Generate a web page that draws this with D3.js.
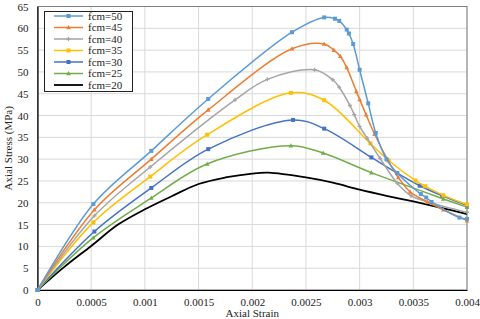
<!DOCTYPE html>
<html>
<head>
<meta charset="utf-8">
<script src="https://cdn.jsdelivr.net/npm/d3@7/dist/d3.min.js"></script>
<style>
body{margin:0;background:#fff;}
svg text{font-family:"Liberation Serif","Times New Roman",serif;fill:#222;}
</style>
</head>
<body>
<div id="chart"></div>
<script>
// data: [axial strain, axial stress MPa]
var seriesNames = ['fcm=50','fcm=45','fcm=40','fcm=35','fcm=30','fcm=25','fcm=20'];
var fcm50 = [[0,0],[0.00052,19.7],[0.00106,31.9],[0.00159,43.8],[0.00237,59.1],[0.00267,62.5],[0.00277,62.2],[0.00281,61.7],[0.00288,59.7],[0.0029,58.8],[0.00294,56.4],[0.003,50.5],[0.00308,42.8],[0.00315,36.0],[0.00325,30.0],[0.00335,26.8],[0.00357,22.0],[0.00362,21.2],[0.00367,20.2],[0.00393,16.6],[0.004,16.3]];
var fcm45 = [[0,0],[0.00053,18.4],[0.00106,30.0],[0.00159,41.3],[0.00237,55.3],[0.00267,56.4],[0.00276,55.0],[0.00282,53.6],[0.00288,51.0],[0.00297,45.5],[0.003,43.7],[0.00306,40.2],[0.00314,35.7],[0.00326,29.9],[0.00336,25.8],[0.00347,22.5],[0.00363,20.2],[0.00378,18.4],[0.004,15.9]];
var fcm40 = [[0,0],[0.00053,17.0],[0.00105,28.2],[0.00184,43.6],[0.00214,48.3],[0.00258,50.5],[0.00275,48.2],[0.00281,46.5],[0.00291,42.3],[0.00295,40.2],[0.003,37.5],[0.00307,34.8],[0.00319,30.2],[0.00335,24.5],[0.00348,21.6],[0.00366,20.0],[0.004,17.8]];
var fcm35 = [[0,0],[0.00052,15.5],[0.00105,26.0],[0.00158,35.6],[0.00236,45.2],[0.00267,43.5],[0.0031,33.6],[0.00327,29.7],[0.00352,25.1],[0.00361,23.8],[0.00378,21.7],[0.004,19.6]];
var fcm30 = [[0,0],[0.00053,13.4],[0.00106,23.4],[0.00159,32.3],[0.00238,39.0],[0.00267,37.0],[0.00311,30.4],[0.00335,26.8],[0.00356,23.9],[0.00377,21.6],[0.004,19.4]];
var fcm25 = [[0,0],[0.00052,12.0],[0.00106,21.1],[0.00158,28.9],[0.00236,33.1],[0.00266,31.4],[0.00311,26.9],[0.00378,20.9],[0.004,19.0]];
var fcm20 = [[0,0],[0.00025,5.3],[0.0005,10.1],[0.00075,15.0],[0.001,18.5],[0.00125,21.5],[0.0015,24.3],[0.00175,25.8],[0.002,26.7],[0.00215,26.9],[0.0025,25.8],[0.00275,24.6],[0.003,23.0],[0.00325,21.6],[0.0035,20.3],[0.00375,18.9],[0.004,17.4]];
var xTicks = [0,0.0005,0.001,0.0015,0.002,0.0025,0.003,0.0035,0.004];
var yTicks = d3.range(0,66,5);

var seriesData = [fcm50,fcm45,fcm40,fcm35,fcm30,fcm25,fcm20];
var colors = ['#5B9BD5','#ED7D31','#A5A5A5','#FFC000','#4472C4','#70AD47','#000000'];
var markers = ['square','triangle','cross','square','square','triangle','none'];

var width = 480, height = 319;
var svg = d3.select('#chart').append('svg').attr('width',width).attr('height',height);

var x = d3.scaleLinear().domain([0,0.004]).range([37.5,467]);
var y = d3.scaleLinear().domain([0,65]).range([290,6.5]);

// grid
svg.append('g').selectAll('line.h').data(yTicks).enter().append('line')
	.attr('x1',x(0)).attr('x2',x(0.004))
	.attr('y1',function(d){return y(d);}).attr('y2',function(d){return y(d);})
	.attr('stroke','#d9d9d9').attr('stroke-width',1);
svg.append('g').selectAll('line.v').data(xTicks).enter().append('line')
	.attr('y1',y(0)).attr('y2',y(65))
	.attr('x1',function(d){return x(d);}).attr('x2',function(d){return x(d);})
	.attr('stroke','#d9d9d9').attr('stroke-width',1);

// plot border
svg.append('rect').attr('x',x(0)).attr('y',y(65)).attr('width',x(0.004)-x(0)).attr('height',y(0)-y(65))
	.attr('fill','none').attr('stroke','#7f7f7f').attr('stroke-width',1);

// axes
var xAxis = svg.append('g').attr('transform','translate(0,'+y(0)+')')
	.call(d3.axisBottom(x).tickValues(xTicks).tickSize(0).tickPadding(8).tickFormat(function(d){return d===0?'0':String(+d.toFixed(4));}));
var yAxis = svg.append('g').attr('transform','translate('+x(0)+',0)')
	.call(d3.axisLeft(y).tickValues(yTicks).tickSize(0).tickPadding(9));
[xAxis,yAxis].forEach(function(a){
	a.select('.domain').attr('stroke','#000').attr('stroke-width',1.2);
	a.selectAll('text').attr('font-size',11).style('font-family','"Liberation Serif",serif').attr('fill','#222');
});

svg.append('text').attr('x',(x(0)+x(0.004))/2).attr('y',317).attr('text-anchor','middle')
	.attr('font-size',11).text('Axial Strain');
svg.append('text').attr('transform','translate(12,'+((y(0)+y(65))/2)+') rotate(-90)')
	.attr('text-anchor','middle').attr('font-size',11).text('Axial Stress (MPa)');

var line = d3.line().x(function(d){return x(d[0]);}).y(function(d){return y(d[1]);})
	.curve(d3.curveCatmullRom.alpha(0.5));

function drawMarker(g, type, cx, cy, color){
	if(type=='square'){
		g.append('rect').attr('x',cx-2).attr('y',cy-2).attr('width',4).attr('height',4).attr('fill',color);
	}else if(type=='triangle'){
		g.append('path').attr('d','M'+cx+','+(cy-2.5)+'L'+(cx+2.3)+','+(cy+1.8)+'L'+(cx-2.3)+','+(cy+1.8)+'Z').attr('fill',color);
	}else if(type=='cross'){
		g.append('path').attr('d','M'+(cx-2)+','+cy+'H'+(cx+2)+'M'+cx+','+(cy-2)+'V'+(cy+2)).attr('stroke',color).attr('stroke-width',1.3);
	}
}

// draw series, last first so fcm=50 is on top
for(var i=seriesData.length-1; i>=0; i--){
	var g = svg.append('g');
	g.append('path').datum(seriesData[i]).attr('d',line).attr('fill','none')
		.attr('stroke',colors[i]).attr('stroke-width',i==6?1.8:1.5);
	for(var j=0; j<seriesData[i].length; j++){
		drawMarker(g, markers[i], x(seriesData[i][j][0]), y(seriesData[i][j][1]), colors[i]);
	}
}

// legend
var lg = svg.append('g');
lg.append('rect').attr('x',44.5).attr('y',11.5).attr('width',88).attr('height',80)
	.attr('fill','#fff').attr('stroke','#222').attr('stroke-width',1);
for(var k=0; k<seriesNames.length; k++){
	var ly = 16 + k*11.5;
	lg.append('line').attr('x1',54).attr('x2',83).attr('y1',ly).attr('y2',ly)
		.attr('stroke',colors[k]).attr('stroke-width',k==6?1.8:1.5);
	drawMarker(lg, markers[k], 68.5, ly, colors[k]);
	lg.append('text').attr('x',88).attr('y',ly+3.8).attr('font-size',11).text(seriesNames[k]);
}
</script>
</body>
</html>
